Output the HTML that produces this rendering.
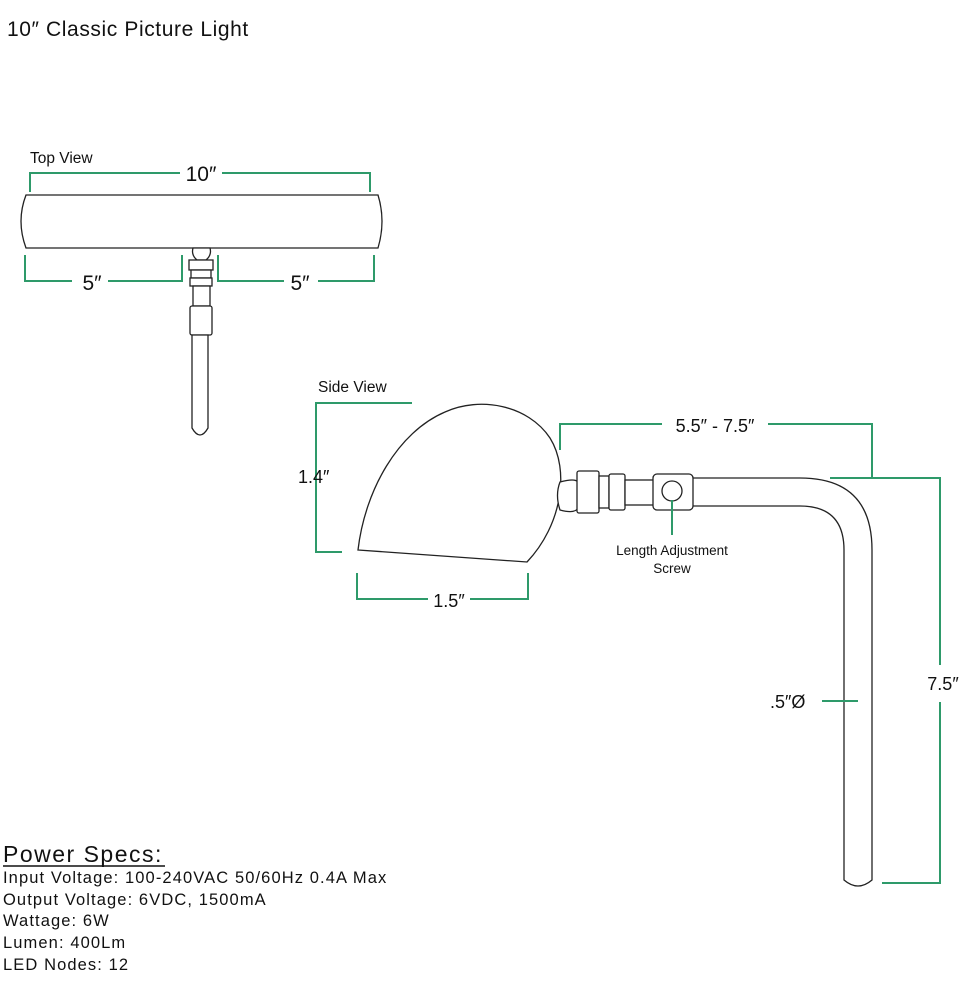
<!DOCTYPE html>
<html><head><meta charset="utf-8"><style>
html,body{margin:0;padding:0;background:#fff;}
svg{display:block;}
text{font-family:"Liberation Sans",sans-serif;fill:#111;}
.g{stroke:#2e9a6a;stroke-width:2;fill:none;}
.k{stroke:#222;stroke-width:1.3;fill:#fff;}
.s{font-size:16.5px;letter-spacing:1.1px;}
</style></head><body>
<svg width="980" height="990" viewBox="0 0 980 990" xmlns="http://www.w3.org/2000/svg">
<text x="7" y="36" font-size="21" letter-spacing="0.6">10″ Classic Picture Light</text>

<!-- Top view -->
<text x="30" y="163" font-size="15.5">Top View</text>
<path class="g" d="M30,192 V173 H180 M222,173 H370 V192"/>
<text x="201" y="181" font-size="21" text-anchor="middle">10″</text>
<path class="k" d="M26,195 H378 Q386,221 378,248 H26 Q16,221 26,195 Z"/>
<path class="g" d="M25,255 V281 H72 M108,281 H182 V255"/>
<path class="g" d="M218,255 V281 H284 M318,281 H374 V255"/>
<text x="92" y="290" font-size="21" text-anchor="middle">5″</text>
<text x="300" y="290" font-size="21" text-anchor="middle">5″</text>
<path class="k" d="M193,248 H210 Q212,255 206,260 H197 Q191,255 193,248 Z"/>
<rect class="k" x="189" y="260" width="24" height="10"/>
<rect class="k" x="191" y="270" width="20" height="8"/>
<rect class="k" x="190" y="278" width="22" height="8"/>
<rect class="k" x="193" y="286" width="17" height="20"/>
<rect class="k" x="190" y="306" width="22" height="29" rx="2"/>
<path class="k" d="M192,335 V428 Q200,442 208,428 V335 Z"/>

<!-- Side view -->
<text x="318" y="392" font-size="15.5">Side View</text>
<path class="g" d="M412,403 H316 V552 H342"/>
<text x="298" y="483" font-size="18">1.4″</text>
<path class="k" d="M358,550 L527,562 C562,525 570,470 550,438 C528,405 480,396 445,412 C398,432 365,490 358,550 Z"/>
<path class="g" d="M357,573 V599 H428 M470,599 H528 V573"/>
<text x="449" y="607" font-size="18" text-anchor="middle">1.5″</text>

<!-- arm -->
<path class="k" d="M692,478 H800 Q872,478 872,550 V880 Q858,892 844,880 V550 Q844,506 800,506 H692 Z"/>
<path class="k" d="M560,482 Q575,478 578,482 V508 Q575,514 560,510 Q555,495 560,482 Z"/>
<rect class="k" x="577" y="471" width="22" height="42" rx="2"/>
<rect class="k" x="599" y="476" width="10" height="32"/>
<rect class="k" x="609" y="474" width="16" height="36" rx="2"/>
<rect class="k" x="625" y="480" width="30" height="25"/>
<rect class="k" x="653" y="474" width="40" height="36" rx="4"/>
<circle class="k" cx="672" cy="491" r="10"/>
<path class="g" d="M672,500 V535"/>
<text x="672" y="555" font-size="13.5" text-anchor="middle">Length Adjustment</text>
<text x="672" y="573" font-size="13.5" text-anchor="middle">Screw</text>

<path class="g" d="M560,450 V424 H662 M768,424 H872 V478"/>
<text x="715" y="432" font-size="18" text-anchor="middle">5.5″ - 7.5″</text>
<path class="g" d="M830,478 H940 V665 M940,702 V883 H882"/>
<text x="943" y="690" font-size="18" text-anchor="middle">7.5″</text>
<path class="g" d="M822,701 H858"/>
<text x="770" y="708" font-size="18">.5″Ø</text>

<!-- power specs -->
<text x="3" y="862" font-size="23" letter-spacing="1.5">Power Specs:</text>
<path d="M3,866 H165" stroke="#111" stroke-width="1.5"/>
<text class="s" x="3" y="883">Input Voltage: 100-240VAC 50/60Hz 0.4A Max</text>
<text class="s" x="3" y="905">Output Voltage: 6VDC, 1500mA</text>
<text class="s" x="3" y="926">Wattage: 6W</text>
<text class="s" x="3" y="948">Lumen: 400Lm</text>
<text class="s" x="3" y="970">LED Nodes: 12</text>
</svg>
</body></html>
